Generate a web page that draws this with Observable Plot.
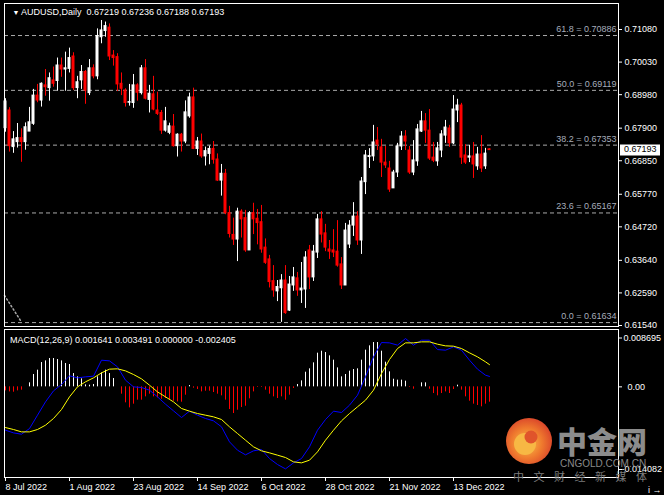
<!DOCTYPE html>
<html><head><meta charset="utf-8">
<script src="https://cdn.jsdelivr.net/npm/d3@7"></script>
<script src="https://cdn.jsdelivr.net/npm/@observablehq/plot@0.6"></script>
<style>
html,body{margin:0;padding:0;background:#000;}
#wrap{position:relative;width:664px;height:495px;overflow:hidden;background:#000;font-family:"Liberation Sans",Arial,sans-serif;}
#main{position:absolute;left:0;top:0;}
#macd{position:absolute;left:0;top:328px;}
#wm{position:absolute;left:0;top:0;pointer-events:none;}
</style></head><body>
<div id="wrap"><div id="main"></div><div id="macd"></div>
<svg id="wm" width="664" height="495" xmlns="http://www.w3.org/2000/svg">
  <defs><radialGradient id="lg" cx="45%" cy="55%" r="60%"><stop offset="0" stop-color="#f9c34a"/><stop offset="0.55" stop-color="#ef7a2e"/><stop offset="1" stop-color="#d8402a"/></radialGradient></defs>
  <circle cx="529" cy="441" r="23" fill="url(#lg)"/>
  <circle cx="525" cy="444" r="11" fill="#f7b844"/>
  <circle cx="531" cy="437" r="6.5" fill="#e0542b"/>
  <text x="557" y="453" font-family="'Noto Sans CJK SC'" font-weight="900" font-size="30" fill="#8c8c8c">中金网</text>
  <text x="560" y="467" font-family="'Liberation Sans',Arial" font-size="10" fill="#8a8a8a">CNGOLD.COM.CN</text>
  <text x="513" y="481" font-family="'Noto Sans CJK SC'" font-size="11" letter-spacing="9.5" fill="#7d7d7d">中文财经新媒体</text>
</svg>
</div>
<script>
// ---- data ----
const symbolTitle = "AUDUSD,Daily  0.67219 0.67236 0.67188 0.67193";
const macdTitle = "MACD(12,26,9) 0.001641 0.003491 0.000000 -0.002405";

const open = [
.6790,.6847,.6729,.6745,.6758,.6745,.6779,.6804,.6895,.6879,
.6928,.6919,.6944,.6942,.6992,.6979,.6981,.7021,.6919,.6944,
.6971,.6903,.6983,.6957,.7083,.7103,.7114,.7024,.7019,.6933,
.6911,.6872,.6871,.6928,.6903,.6983,.6881,.6899,.6847,.6839,
.6782,.6775,.6795,.6732,.6769,.6747,.6828,.6889,.6723,.6747,
.6699,.6707,.6723,.6689,.6621,.6643,.6516,.6446,.6431,.6521,
.6500,.6396,.6516,.6498,.6487,.6405,.6367,.6297,.6264,.6274,
.6299,.6202,.6283,.6306,.6267,.6270,.6396,.6309,.6389,.6496,
.6451,.6399,.6396,.6392,.6351,.6283,.6415,.6476,.6505,.6428,
.6616,.6697,.6699,.6750,.6728,.6679,.6660,.6596,.6647,.6731,
.6763,.6718,.6647,.6683,.6779,.6812,.6782,.6695,.6683,.6718,
.6766,.6789,.6741,.6847,.6863,.6702,.6695,.6699,.6667,.6705,
.6667,.67219];
const high = [
.6885,.6856,.6779,.6805,.6788,.6807,.6857,.6915,.6931,.6936,
.6979,.6968,.6987,.7016,.7016,.7035,.7048,.7033,.6957,.6992,
.6976,.7011,.6994,.7110,.7137,.7132,.7126,.7040,.7030,.6968,
.6917,.6931,.6963,.6933,.6992,.7011,.6928,.6957,.6906,.6847,
.6857,.6806,.6834,.6772,.6773,.6878,.6903,.6919,.6760,.6771,
.6729,.6732,.6747,.6707,.6673,.6657,.6538,.6500,.6532,.6527,
.6525,.6521,.6548,.6528,.6541,.6433,.6380,.6347,.6299,.6318,
.6347,.6312,.6341,.6325,.6357,.6392,.6412,.6412,.6512,.6521,
.6480,.6428,.6463,.6492,.6373,.6483,.6492,.6550,.6521,.6631,
.6718,.6724,.6799,.6792,.6754,.6731,.6683,.6654,.6741,.6779,
.6782,.6731,.6750,.6802,.6844,.6837,.6850,.6744,.6744,.6782,
.6815,.6799,.6895,.6883,.6870,.6737,.6734,.6744,.6728,.6766,
.6725,.67236];
const low = [
.6777,.6713,.6709,.6726,.6680,.6719,.6779,.6799,.6872,.6858,
.6893,.6877,.6922,.6909,.6954,.6909,.6968,.6911,.6885,.6915,
.6867,.6895,.6949,.6946,.7062,.7083,.7008,.6990,.6908,.6895,
.6858,.6861,.6854,.6877,.6897,.6881,.6839,.6846,.6831,.6770,
.6777,.6769,.6729,.6697,.6713,.6740,.6822,.6721,.6702,.6693,
.6668,.6672,.6674,.6618,.6571,.6511,.6436,.6412,.6360,.6436,
.6390,.6396,.6447,.6414,.6387,.6351,.6275,.6245,.6231,.6164,
.6190,.6199,.6264,.6248,.6225,.6209,.6270,.6296,.6370,.6420,
.6392,.6367,.6373,.6342,.6270,.6283,.6402,.6441,.6412,.6383,
.6576,.6660,.6683,.6718,.6631,.6660,.6583,.6596,.6631,.6718,
.6718,.6641,.6637,.6667,.6776,.6741,.6686,.6679,.6667,.6695,
.6741,.6728,.6737,.6808,.6673,.6673,.6679,.6628,.6654,.6647,
.6657,.67188];
const close = [
.6876,.6732,.6754,.6758,.6745,.6793,.6809,.6895,.6879,.6933,
.6922,.6951,.6933,.6992,.6979,.6983,.7016,.6919,.6938,.6971,
.6911,.6983,.6957,.7087,.7105,.7119,.7021,.7016,.6931,.6917,
.6871,.6874,.6928,.6904,.6983,.6885,.6901,.6850,.6836,.6782,
.6812,.6796,.6732,.6769,.6747,.6841,.6889,.6723,.6747,.6699,
.6716,.6723,.6688,.6621,.6643,.6516,.6449,.6431,.6521,.6496,
.6396,.6516,.6496,.6484,.6399,.6356,.6294,.6267,.6278,.6299,
.6194,.6286,.6309,.6267,.6273,.6373,.6309,.6392,.6496,.6447,
.6405,.6392,.6389,.6347,.6283,.6460,.6476,.6505,.6428,.6618,
.6702,.6700,.6744,.6737,.6679,.6670,.6592,.6647,.6731,.6763,
.6747,.6647,.6686,.6786,.6812,.6782,.6692,.6685,.6725,.6770,
.6792,.6741,.6850,.6863,.6695,.6679,.6699,.6673,.6705,.6660,
.6708,.67193];

const macdHist = [
-.00063,-.00079,-.00084,-.00063,-.00052,0,.00063,.00194,.00262,.00382,
.00408,.00445,.00445,.00429,.00408,.00367,.00351,.00209,.00157,.00126,
.00031,.00026,.00037,.00157,.00220,.00262,.00209,.00131,0,-.00115,
-.00251,-.00330,-.00272,-.00209,-.00209,-.00157,-.00115,-.00157,-.00173,-.00194,
-.00183,-.00199,-.00225,-.00236,-.00241,-.00131,.00021,-.00021,-.00042,-.00079,
-.00068,-.00068,-.00089,-.00115,-.00141,-.00209,-.00356,-.00419,-.00367,-.00325,
-.00304,-.00188,-.00079,-.00010,-.00010,-.00052,-.00115,-.00157,-.00183,-.00157,
-.00209,-.00131,-.00026,.00037,.00094,.00230,.00283,.00377,.00529,.00560,
.00539,.00487,.00419,.00298,.00157,.00194,.00246,.00272,.00283,.00419,
.00576,.00644,.00696,.00696,.00560,.00387,.00236,.00120,.00105,.00105,
.00089,-.00010,-.00037,0,.00063,.00063,-.00037,-.00105,-.00141,-.00105,
-.00079,-.00105,-.00042,.00026,-.00052,-.00157,-.00225,-.00272,-.00293,-.00314,
-.00272,-.002405];

const lineIdx = [0,2,4,6,8,10,12,14,16,18,20,22,24,26,28,30,32,34,36,38,
40,42,44,46,48,50,52,54,56,58,60,62,64,66,68,70,72,74,76,78,
80,82,84,86,88,90,92,94,96,98,100,102,104,106,108,110,112,114,116,118,120,121];
const macdBlue = [
-.00681,-.00723,-.00744,-.00655,-.00445,-.00236,-.00063,.00037,.00173,.00141,
.00157,.00168,.00419,.00408,.00314,.00105,0,-.00010,-.00052,-.00157,
-.00272,-.00377,-.00482,-.00382,-.00445,-.00497,-.00534,-.00628,-.00864,-.00995,
-.01068,-.01005,-.00984,-.01126,-.01220,-.01288,-.01194,-.01126,-.00942,-.00681,
-.00513,-.00382,-.00403,-.00288,-.00131,.00157,.00471,.00696,.00691,.00655,
.00759,.00655,.00733,.00733,.00586,.00576,.00628,.00576,.00419,.00278,
.00183,.001641];
const macdYellow = [
-.00639,-.00670,-.00707,-.00707,-.00670,-.00602,-.00497,-.00356,-.00157,0,
.00079,.00141,.00220,.00278,.00283,.00251,.00194,.00126,.00026,-.00079,
-.00157,-.00236,-.00340,-.00382,-.00419,-.00445,-.00471,-.00513,-.00628,-.00733,
-.00838,-.00942,-.01005,-.01037,-.01073,-.01110,-.01178,-.01194,-.01152,-.01021,
-.00838,-.00681,-.00534,-.00419,-.00314,-.00209,-.00052,.00209,.00429,.00602,
.00691,.00691,.00707,.00707,.00670,.00644,.00639,.00602,.00534,.00471,
.00393,.003491];

const priceTicks = [0.71080,0.70030,0.68980,0.67900,0.66850,0.65770,0.64720,0.63640,0.62590,0.61540];
const fibLevels = ["61.8","50.0","38.2","23.6","0.0"];
const fibPrices = [0.70886,0.69119,0.67353,0.65167,0.61634];
const fibTrendIdx = [-0.25, 3.75];
const fibTrendPrice = [0.6251, 0.6170];

const dateIdx = [0,16,32,48,64,80,96,112];
const dateLabels = ["8 Jul 2022","1 Aug 2022","23 Aug 2022","14 Sep 2022","6 Oct 2022","28 Oct 2022","21 Nov 2022","13 Dec 2022"];

const macdTicks = [0.008695, 0, -0.014082];
const macdTickLabels = ["0.008695","0.00","-0.014082"];

// ---- build ----
const BULL = "#ffffff", BEAR = "#ff0000";
const candles = open.map((o, i) => ({i, o, h: high[i], l: low[i], c: close[i], col: close[i] >= o ? BULL : BEAR}));
const fibs = fibPrices.map((p, k) => ({p, label: fibLevels[k] + " = " + p.toFixed(5)}));
const trend = fibTrendIdx.map((i, k) => ({i, p: fibTrendPrice[k]}));
const hist = macdHist.map((v, i) => ({i, v, col: v >= 0 ? "#ffffff" : "#ff0000"}));
const lines = lineIdx.map((i, k) => ({i, b: macdBlue[k], y: macdYellow[k]}));
const xDomain = [-0.25, 153.25];
const font = "'Liberation Sans', Arial, sans-serif";

const main = Plot.plot({
  width: 664, height: 332,
  marginLeft: 4, marginRight: 46, marginTop: 3, marginBottom: 6,
  style: {background: "#000", color: "#fff", fontFamily: font, fontSize: "9px"},
  x: {domain: xDomain, axis: null},
  y: {domain: [0.6154, 0.7108], range: [325, 29], axis: null},
  marks: [
    Plot.ruleY(fibs, {y: "p", stroke: "#a9a9a9", strokeDasharray: "4,3"}),
    Plot.text(fibs, {y: "p", text: "label", frameAnchor: "right", textAnchor: "end", dx: -2, dy: -6.5, fill: "#a6adbb"}),
    Plot.line(trend, {x: "i", y: "p", stroke: "#a9a9a9", strokeDasharray: "1.5,2.5"}),
    Plot.ruleX(candles, {x: "i", y1: "l", y2: "h", stroke: "col"}),
    Plot.rect(candles, {x1: d => d.i - 0.375, x2: d => d.i + 0.375, y1: "o", y2: "c", fill: "col", insetTop: -0.5, insetBottom: -0.5}),
    Plot.axisY({anchor: "right", ticks: priceTicks, tickFormat: d3.format(".5f"), tickSize: 3, tickPadding: 3}),
    Plot.frame({stroke: "#fff"}),
    Plot.text(["▼"], {frameAnchor: "top-left", dx: 8, dy: 9, lineAnchor: "middle", fontSize: 7, fill: "#fff"}),
    Plot.text([symbolTitle], {frameAnchor: "top-left", dx: 16.5, dy: 9, lineAnchor: "middle", textAnchor: "start", fill: "#fff"})
  ]
});
document.getElementById("main").appendChild(main);

// current price marker on the price axis (positioned through the y scale)
{
  const yScale = main.scale("y");
  const last = close[close.length - 1];
  const yy = yScale.apply(last);
  const svg = d3.select(main);
  svg.append("rect").attr("x", 620).attr("y", Math.round(yy) - 5.5).attr("width", 40).attr("height", 11).attr("fill", "#fff");
  svg.append("text").attr("x", 624).attr("y", yy).attr("dy", "0.32em").attr("fill", "#000")
    .attr("text-anchor", "start").attr("font-family", font).attr("font-size", 9).text(last.toFixed(5));
}

const macd = Plot.plot({
  width: 664, height: 167,
  marginLeft: 4, marginRight: 46, marginTop: 1, marginBottom: 18,
  style: {background: "transparent", color: "#fff", fontFamily: font, fontSize: "9px"},
  x: {domain: xDomain, axis: null},
  y: {domain: [-0.014082, 0.008695], range: [148, 3], axis: null},
  marks: [
    Plot.ruleX(hist, {x: "i", y1: 0, y2: "v", stroke: "col"}),
    Plot.line(lines, {x: "i", y: "b", stroke: "#0000ff", strokeWidth: 1}),
    Plot.line(lines, {x: "i", y: "y", stroke: "#ffff00", strokeWidth: 1}),
    Plot.axisY({anchor: "right", ticks: [macdTicks[0]], tickFormat: () => macdTickLabels[0], tickSize: 3, tickPadding: 2, dy: 6.5}),
    Plot.axisY({anchor: "right", ticks: [macdTicks[1]], tickFormat: () => macdTickLabels[1], tickSize: 3}),
    Plot.axisY({anchor: "right", ticks: [macdTicks[2]], tickFormat: () => macdTickLabels[2], tickSize: 3, tickPadding: 0, dy: -7}),
    Plot.axisX({ticks: dateIdx, tickFormat: d => dateLabels[dateIdx.indexOf(d)], tickSize: 4, tickPadding: 2, textAnchor: "start"}),
    Plot.frame({stroke: "#fff"}),
    Plot.text([macdTitle], {frameAnchor: "top-left", dx: 5.5, dy: 10.3, lineAnchor: "middle", textAnchor: "start", fill: "#fff"})
  ]
});
document.getElementById("macd").appendChild(macd);
</script>
</body></html>
